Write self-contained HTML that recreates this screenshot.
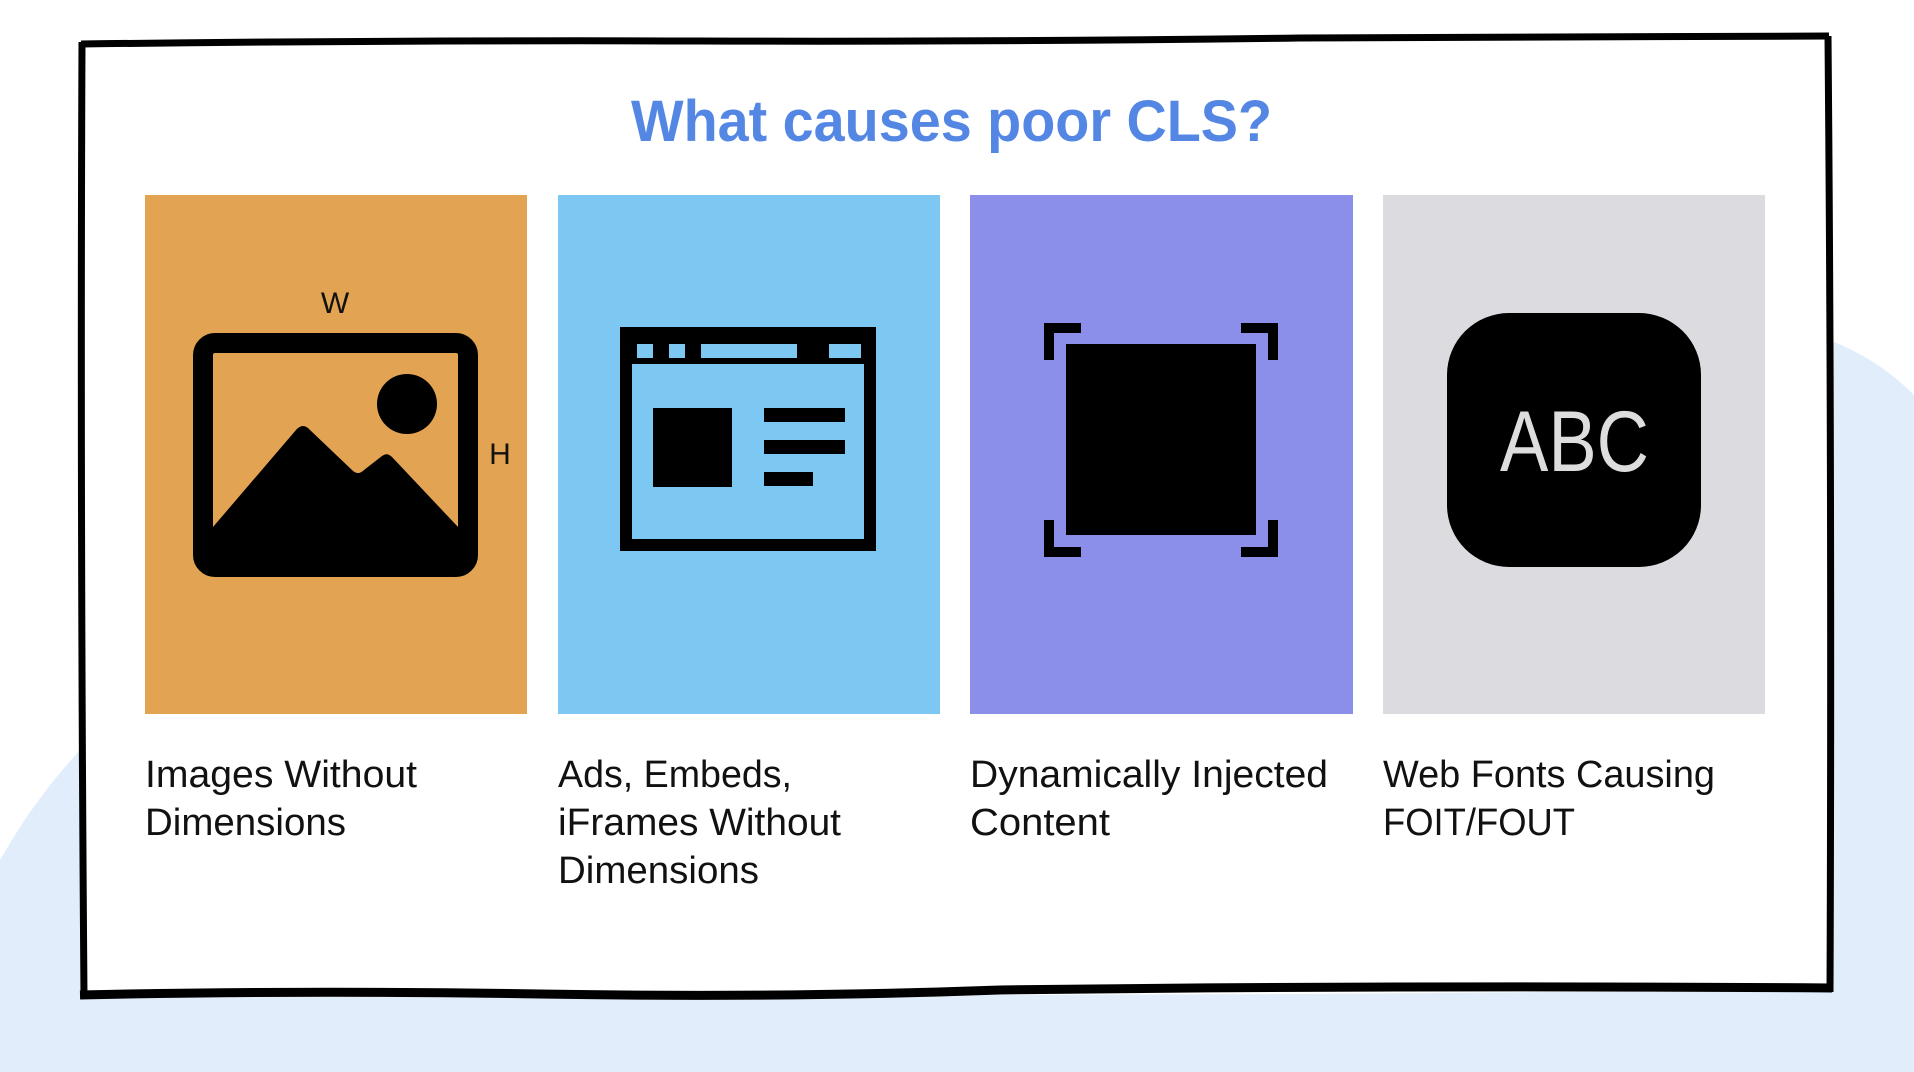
<!DOCTYPE html>
<html><head><meta charset="utf-8"><style>
html,body{margin:0;padding:0;background:#fff;}
svg{display:block;}
</style></head><body>
<svg width="1914" height="1072" viewBox="0 0 1914 1072" xmlns="http://www.w3.org/2000/svg">
<rect width="1914" height="1072" fill="#ffffff"/>
<path d="M0,860 Q40,790 90,740 L1800,330 Q1870,350 1914,395 L1914,1072 L0,1072 Z" fill="#e1edfb"/>
<path d="M81,42 L700,40 L1300,38 L1829,36 L1829,990 L1300,994 L700,996 L81,994 Z" fill="#ffffff"/>
<path d="M81,44 Q400,40 700,41 T1300,38 Q1600,36 1829,36" fill="none" stroke="#000" stroke-width="7"/>
<path d="M82,42 Q80,500 84,996" fill="none" stroke="#000" stroke-width="7"/>
<path d="M1828,36 Q1832,500 1830,992" fill="none" stroke="#000" stroke-width="7"/>
<path d="M80,995 Q300,990 540,994 T1000,990 Q1400,985 1832,988" fill="none" stroke="#000" stroke-width="9"/>
<text x="631" y="141" textLength="641" lengthAdjust="spacingAndGlyphs" font-family="Liberation Sans, sans-serif" font-weight="bold" font-size="58" fill="#5487e4">What causes poor CLS?</text>

<rect x="145" y="195" width="382" height="519" fill="#e2a452"/>
<rect x="558" y="195" width="382" height="519" fill="#7cc8f2"/>
<rect x="970" y="195" width="383" height="519" fill="#8c8fea"/>
<rect x="1383" y="195" width="382" height="519" fill="#dcdbe0"/>

<!-- image icon -->
<rect x="203" y="343" width="265" height="224" rx="12" fill="none" stroke="#000" stroke-width="20"/>
<circle cx="407" cy="404" r="30" fill="#000"/>
<path d="M213,527 L296,430 Q303,422 310,430 L352,470 Q358,476 364,470 L382,456 Q387,452 392,457 L458,527 L458,557 L213,557 Z" fill="#000"/>
<text x="335" y="313" text-anchor="middle" font-family="Liberation Sans, sans-serif" font-size="30" fill="#111">W</text>
<text x="500" y="464" text-anchor="middle" font-family="Liberation Sans, sans-serif" font-size="30" fill="#111">H</text>

<!-- browser icon -->
<rect x="626" y="333" width="244" height="212" fill="none" stroke="#000" stroke-width="12"/>
<rect x="620" y="327" width="256" height="37" fill="#000"/>
<rect x="637" y="344" width="16" height="14" fill="#7cc8f2"/>
<rect x="669" y="344" width="16" height="14" fill="#7cc8f2"/>
<rect x="701" y="344" width="96" height="14" fill="#7cc8f2"/>
<rect x="829" y="344" width="32" height="14" fill="#7cc8f2"/>
<rect x="653" y="408" width="79" height="79" fill="#000"/>
<rect x="764" y="408" width="81" height="14" fill="#000"/>
<rect x="764" y="440" width="81" height="14" fill="#000"/>
<rect x="764" y="472" width="49" height="14" fill="#000"/>

<!-- focus icon -->
<rect x="1066" y="344" width="190" height="191" fill="#000"/>
<path d="M1049,360 L1049,328 L1081,328 M1241,328 L1273,328 L1273,360 M1049,520 L1049,552 L1081,552 M1241,552 L1273,552 L1273,520" fill="none" stroke="#000" stroke-width="10"/>

<!-- ABC icon -->
<rect x="1447" y="313" width="254" height="254" rx="62" fill="#000"/>
<text x="1500" y="471" textLength="149" lengthAdjust="spacingAndGlyphs" font-family="Liberation Sans, sans-serif" font-size="86" fill="#dddddd">ABC</text>

<g font-family="Liberation Sans, sans-serif" font-size="38" fill="#111">
<text x="145" y="787" textLength="272" lengthAdjust="spacingAndGlyphs">Images Without</text>
<text x="145" y="835" textLength="201" lengthAdjust="spacingAndGlyphs">Dimensions</text>
<text x="558" y="787" textLength="234" lengthAdjust="spacingAndGlyphs">Ads, Embeds,</text>
<text x="558" y="835" textLength="283" lengthAdjust="spacingAndGlyphs">iFrames Without</text>
<text x="558" y="883" textLength="201" lengthAdjust="spacingAndGlyphs">Dimensions</text>
<text x="970" y="787" textLength="358" lengthAdjust="spacingAndGlyphs">Dynamically Injected</text>
<text x="970" y="835" textLength="140" lengthAdjust="spacingAndGlyphs">Content</text>
<text x="1383" y="787" textLength="332" lengthAdjust="spacingAndGlyphs">Web Fonts Causing</text>
<text x="1383" y="835" textLength="192" lengthAdjust="spacingAndGlyphs">FOIT/FOUT</text>
</g>
</svg>
</body></html>
